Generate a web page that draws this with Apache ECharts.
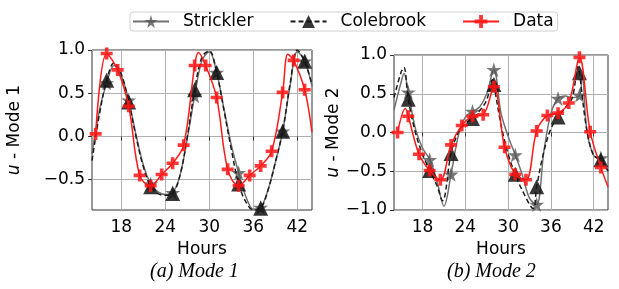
<!DOCTYPE html>
<html>
<head>
<meta charset="utf-8">
<script src="https://cdn.jsdelivr.net/npm/echarts@6/dist/echarts.min.js"></script>
<style>
  html, body { margin: 0; padding: 0; background: #fff; }
  #chart { width: 619px; height: 289px; }
</style>
</head>
<body>
<div id="chart"></div>
<script>
// hours that carry a marker (model curves), every 3 h
var modelMarkHours = [16, 19, 22, 25, 28, 31, 34, 37, 40, 43];
var xTicks = [18, 24, 30, 36, 42];

// Mode 1
var m1StrHours = [14,15,16,17,18,19,20,21,22,23,24,25,26,27,28,29,30,31,32,33,34,35,36,37,38,39,40,41,42,43,44];
var m1StrVals  = [-0.20,0.30,0.62,0.82,0.70,0.42,0.02,-0.33,-0.55,-0.64,-0.67,-0.65,-0.45,-0.02,0.47,0.88,0.98,0.74,0.32,-0.10,-0.42,-0.70,-0.84,-0.82,-0.62,-0.30,0.06,0.58,0.98,0.87,0.58];
var m1ColHours = [14,15,16,17,18,19,20,21,22,23,24,25,26,27,28,29,30,31,32,33,34,35,36,37,38,39,40,41,42,43,44];
var m1ColVals  = [-0.28,0.25,0.65,0.85,0.72,0.40,0.00,-0.35,-0.58,-0.66,-0.68,-0.66,-0.45,0.00,0.54,0.92,0.99,0.74,0.30,-0.15,-0.55,-0.76,-0.85,-0.83,-0.62,-0.30,0.06,0.60,1.00,0.87,0.60];
var m1DatHours = [14.5,16,17.5,19,20.5,22,23.5,25,26.5,28,28.5,29.5,31,32.5,34,35.5,37,38.5,40,40.7,41.5,43,44];
var m1DatVals  = [0.03,0.96,0.77,0.35,-0.45,-0.57,-0.44,-0.31,-0.10,0.82,0.97,0.82,0.45,-0.38,-0.57,-0.45,-0.34,-0.17,0.51,0.95,0.88,0.54,0.05];
var m1DatMarks = [14.5,16,17.5,19,20.5,22,23.5,25,26.5,28,29.5,31,32.5,34,35.5,37,38.5,40,41.5,43];

// Mode 2
var m2StrHours = [14,15,15.4,16,17,18,19,20,21,22,23,24,25,26,27,28,29,30,31,32,33,34,35,36,37,38,39,40,40.4,41,42,43,44];
var m2StrVals  = [0.29,0.65,0.76,0.52,0.05,-0.20,-0.35,-0.62,-0.95,-0.54,-0.05,0.20,0.27,0.33,0.50,0.81,0.25,-0.05,-0.29,-0.55,-0.85,-0.93,-0.25,0.25,0.44,0.47,0.45,0.48,0.75,0.05,-0.30,-0.33,-0.50];
var m2ColHours = [14,15,15.4,16,17,18,19,20,20.8,22,23,24,25,26,27,27.8,28,29,30,31,32,33.5,34,35,36,37,38,39,39.8,40,41,42,43,44];
var m2ColVals  = [0.45,0.78,0.84,0.43,0.00,-0.28,-0.49,-0.68,-0.88,-0.27,0.00,0.12,0.18,0.28,0.42,0.68,0.62,0.10,-0.28,-0.54,-0.75,-0.98,-0.70,-0.25,0.05,0.20,0.32,0.45,0.85,0.77,0.05,-0.30,-0.35,-0.50];
var m2DatHours = [14.5,15.6,16,17.5,19,20.5,22,23.5,25,26.5,28,29.5,31,32.5,34,35.5,37,38.5,40,41.5,43,44];
var m2DatVals  = [0.00,0.31,0.21,-0.28,-0.49,-0.61,-0.16,0.09,0.21,0.23,0.59,-0.19,-0.54,-0.61,0.02,0.22,0.25,0.38,0.97,0.01,-0.45,-0.70];
var m2DatMarks = [14.5,16,17.5,19,20.5,22,23.5,25,26.5,28,29.5,31,32.5,34,35.5,37,38.5,40,41.5,43];

var STAR = 'path://M50,0 L61,35 L98,35 L68,57 L79,91 L50,70 L21,91 L32,57 L2,35 L39,35 Z';
var PLUS = 'path://M35,0 H65 V35 H100 V65 H65 V100 H35 V65 H0 V35 H35 Z';
var FONT = 'DejaVu Sans';

function pts(hours, vals, marks) {
    var out = [];
    for (var i = 0; i < hours.length; i++) {
        var item = { value: [hours[i], vals[i]] };
        if (marks.indexOf(hours[i]) < 0) item.symbol = 'none';
        out.push(item);
    }
    return out;
}

function fmtY(v) {
    return v.toFixed(1).replace('-', '\u2212');
}

function mkSeries(idx, strH, strV, colH, colV, datH, datV, datM) {
    return [{
        name: 'Strickler', type: 'line', xAxisIndex: idx, yAxisIndex: idx,
        smooth: 0.35, symbol: STAR, symbolSize: 15, z: 2,
        lineStyle: { color: '#707070', width: 1.5 },
        itemStyle: { color: 'rgba(85,85,85,0.8)' },
        data: pts(strH, strV, modelMarkHours)
    }, {
        name: 'Colebrook', type: 'line', xAxisIndex: idx, yAxisIndex: idx,
        smooth: 0.35, symbol: 'triangle', symbolSize: 15, z: 3,
        lineStyle: { color: '#1a1a1a', width: 1.5, type: [5, 3] },
        itemStyle: { color: 'rgba(20,20,20,0.85)' },
        data: pts(colH, colV, modelMarkHours)
    }, {
        name: 'Data', type: 'line', xAxisIndex: idx, yAxisIndex: idx,
        smooth: 0.35, symbol: PLUS, symbolSize: 12, z: 4,
        lineStyle: { color: '#ff1a1a', width: 1.5 },
        itemStyle: { color: 'rgba(255,20,20,0.85)' },
        data: pts(datH, datV, datM)
    }];
}

function mkX(idx) {
    return {
        type: 'value', gridIndex: idx, min: 14, max: 44,
        name: 'Hours', nameLocation: 'middle', nameGap: 30,
        nameTextStyle: { fontFamily: FONT, fontSize: 17, color: '#000' },
        axisLine: { show: false },
        axisTick: { show: true, length: 4, customValues: xTicks, lineStyle: { color: '#333' } },
        axisLabel: { customValues: xTicks, margin: 9, fontFamily: FONT, fontSize: 17, color: '#000' },
        splitLine: { show: true, lineStyle: { color: '#b0b0b0', width: 1 } }
    };
}

function mkY(idx, min, ticks, label, gap) {
    return {
        type: 'value', gridIndex: idx, min: min, max: 1,
        name: '{i|u} - ' + label, nameLocation: 'middle', nameGap: gap,
        nameTextStyle: { fontFamily: FONT, fontSize: 17, color: '#000',
            rich: { i: { fontFamily: FONT, fontSize: 17, fontStyle: 'italic', color: '#000' } } },
        axisLine: { show: false },
        axisTick: { show: true, length: 4, customValues: ticks, lineStyle: { color: '#333' } },
        axisLabel: { customValues: ticks, margin: 7, fontFamily: FONT, fontSize: 17, color: '#000', formatter: fmtY },
        splitLine: { show: true, lineStyle: { color: '#b0b0b0', width: 1 } }
    };
}

var chart = echarts.init(document.getElementById('chart'));
chart.setOption({
    animation: false,
    backgroundColor: '#fff',
    legend: {
        left: 130, top: 12,
        data: ['Strickler', 'Colebrook', 'Data'],
        itemWidth: 36, itemHeight: 16, itemGap: 36,
        padding: [1, 4, 1, 2],
        borderColor: '#d0d0d0', borderWidth: 1, borderRadius: 3,
        textStyle: { fontFamily: FONT, fontSize: 17, color: '#000', padding: [0, 0, 0, 9] }
    },
    grid: [
        { left: 92, top: 50, width: 220, height: 160, show: true, borderColor: '#333', borderWidth: 1 },
        { left: 394, top: 55, width: 214, height: 155, show: true, borderColor: '#333', borderWidth: 1 }
    ],
    xAxis: [mkX(0), mkX(1)],
    yAxis: [
        mkY(0, -0.85, [-0.5, 0, 0.5, 1], 'Mode 1', 69),
        mkY(1, -1, [-1, -0.5, 0, 0.5, 1], 'Mode 2', 52)
    ],
    graphic: [
        { type: 'text', left: 150, top: 262,
          style: { text: '(a) Mode 1', font: 'italic 20px "Liberation Serif"', fill: '#000' } },
        { type: 'text', left: 447, top: 262,
          style: { text: '(b) Mode 2', font: 'italic 20px "Liberation Serif"', fill: '#000' } }
    ],
    series: [].concat(
        mkSeries(0, m1StrHours, m1StrVals, m1ColHours, m1ColVals, m1DatHours, m1DatVals, m1DatMarks),
        mkSeries(1, m2StrHours, m2StrVals, m2ColHours, m2ColVals, m2DatHours, m2DatVals, m2DatMarks)
    )
});
</script>
</body>
</html>
